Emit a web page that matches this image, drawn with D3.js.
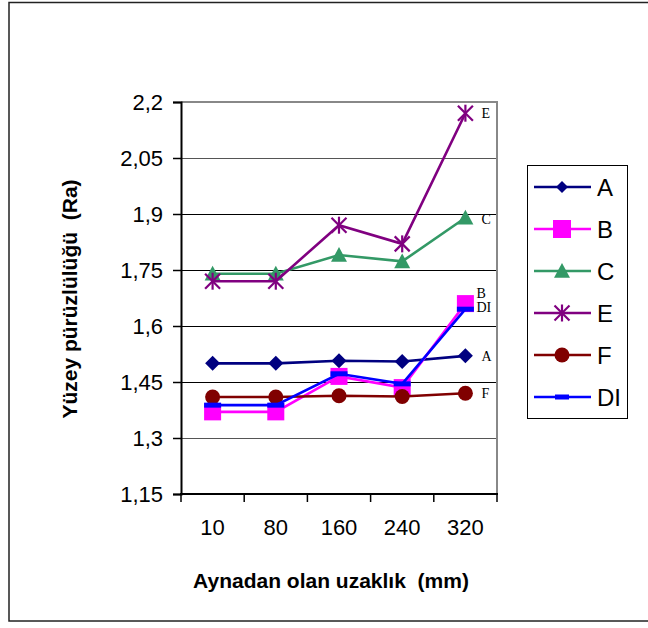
<!DOCTYPE html>
<html><head><meta charset="utf-8">
<script src="https://cdn.jsdelivr.net/npm/d3@7"></script>
<style>
html,body{margin:0;padding:0;background:#fff;}
svg{display:block;}
text{font-family:"Liberation Sans",Arial,sans-serif;white-space:pre;}
text.serif{font-family:"Liberation Serif","Times New Roman",serif;}
</style></head>
<body>
<svg id="chart" width="648" height="628"></svg>
<script>
const categories = ["10","80","160","240","320"];
const seriesNames = ["A","B","C","E","F","DI"];
const valuesA  = [1.50, 1.50, 1.507, 1.505, 1.52];
const valuesB  = [1.37, 1.37, 1.465, 1.435, 1.66];
const valuesC  = [1.74, 1.74, 1.79, 1.773, 1.89];
const valuesE  = [1.72, 1.72, 1.87, 1.82, 2.17];
const valuesF  = [1.41, 1.41, 1.413, 1.411, 1.42];
const valuesDI = [1.388, 1.388, 1.472, 1.445, 1.645];
const yTickValues = [1.15, 1.3, 1.45, 1.6, 1.75, 1.9, 2.05, 2.2];
const yTickLabels = ["1,15","1,3","1,45","1,6","1,75","1,9","2,05","2,2"];
const xTitle = "Aynadan olan uzaklık  (mm)";
const yTitle = "Yüzey pürüzlülüğü  (Ra)";

const seriesValues = {A:valuesA, B:valuesB, C:valuesC, E:valuesE, F:valuesF, DI:valuesDI};
const colors = {A:"#000080", B:"#FF00FF", C:"#339966", E:"#800080", F:"#800000", DI:"#0000FF"};

const svg = d3.select("#chart");
const L = 181, R = 497, T = 102, B = 494;
const x = d3.scaleBand().domain(categories).range([L, R]).padding(0);
const y = d3.scaleLinear().domain([1.15, 2.2]).range([B, T]);
const cx = c => x(c) + x.bandwidth()/2;

// outer border
svg.append("rect").attr("x",9).attr("y",2.5).attr("width",700).attr("height",618.5)
  .attr("fill","none").attr("stroke","#222").attr("stroke-width",1.5);

// gridlines
svg.append("g").selectAll("line").data(yTickValues.slice(1, -1)).join("line")
  .attr("x1", L).attr("x2", R)
  .attr("y1", d => Math.round(y(d)) + 0.5).attr("y2", d => Math.round(y(d)) + 0.5)
  .attr("stroke", (d,i) => (i===0 || i===5) ? "#555" : "#000").attr("stroke-width", 1);

// plot area top/right border
svg.append("path").attr("d", `M${L},${T}H${R}V${B}`).attr("fill","none")
  .attr("stroke","#888").attr("stroke-width",2);

// y axis
const yAxis = d3.axisLeft(y).tickValues(yTickValues).tickSize(8).tickPadding(10)
  .tickFormat((d,i) => yTickLabels[i]);
const gy = svg.append("g").attr("transform", `translate(${L},0)`).call(yAxis);
gy.select(".domain").attr("stroke","#000").attr("stroke-width",2);
gy.selectAll(".tick line").attr("stroke","#000").attr("stroke-width",1.5);
gy.selectAll(".tick text").attr("font-size",22).attr("fill","#000").attr("dy","0.36em");

// x axis (ticks between categories)
const gx = svg.append("g");
gx.append("line").attr("x1",L-1).attr("x2",R+1).attr("y1",B).attr("y2",B)
  .attr("stroke","#000").attr("stroke-width",2);
const edges = categories.map(c => x(c)).concat([x(categories[categories.length-1]) + x.bandwidth()]);
gx.selectAll("line.tk").data(edges).join("line").attr("class","tk")
  .attr("x1", d => d).attr("x2", d => d).attr("y1", B).attr("y2", B + 8)
  .attr("stroke","#000").attr("stroke-width",1.5);
gx.selectAll("text").data(categories).join("text")
  .attr("x", d => cx(d)).attr("y", 535).attr("text-anchor","middle")
  .attr("font-size",22).attr("fill","#000").text(d => d);

// axis titles
svg.append("text").attr("x", 331).attr("y", 588).attr("text-anchor","middle")
  .attr("font-size",21).attr("font-weight","bold").text(xTitle);
svg.append("text").attr("transform","translate(77,299) rotate(-90)").attr("text-anchor","middle")
  .attr("font-size",21).attr("font-weight","bold").text(yTitle);

// markers
function drawMarker(g, name, px, py, legend) {
  const col = colors[name];
  if (name === "A") {
    const s = legend ? 6 : 7.5;
    g.append("path").attr("d", `M${px},${py-s}L${px+s},${py}L${px},${py+s}L${px-s},${py}Z`).attr("fill", col);
  } else if (name === "B") {
    const s = legend ? 9 : 8.5;
    g.append("rect").attr("x", px-s).attr("y", py-s).attr("width", 2*s).attr("height", 2*s).attr("fill", col);
  } else if (name === "C") {
    const s = 8;
    g.append("path").attr("d", `M${px},${py-s}L${px+s},${py+s*0.85}L${px-s},${py+s*0.85}Z`).attr("fill", col);
  } else if (name === "E") {
    const s = 7.5;
    const ga = g.append("g").attr("stroke", col).attr("stroke-width", 2.2);
    ga.append("line").attr("x1",px-s).attr("x2",px+s).attr("y1",py-s).attr("y2",py+s);
    ga.append("line").attr("x1",px-s).attr("x2",px+s).attr("y1",py+s).attr("y2",py-s);
    ga.append("line").attr("x1",px).attr("x2",px).attr("y1",py-s-1).attr("y2",py+s+1);
  } else if (name === "F") {
    g.append("circle").attr("cx", px).attr("cy", py).attr("r", 7.5).attr("fill", col);
  } else if (name === "DI") {
    const w = legend ? 7 : 8.5, h = 2.5;
    g.append("rect").attr("x", px-w).attr("y", py-h).attr("width", 2*w).attr("height", 2*h).attr("fill", col);
  }
}

const line = d3.line().x((d,i) => cx(categories[i])).y(d => y(d));
const endOffsets = {A:5, B:-6, C:6, E:5, F:5, DI:3};
seriesNames.forEach(name => {
  const vals = seriesValues[name];
  const g = svg.append("g");
  g.append("path").datum(vals).attr("d", line).attr("fill","none")
    .attr("stroke", colors[name]).attr("stroke-width", 2.6);
  vals.forEach((v,i) => drawMarker(g, name, cx(categories[i]), y(v), false));
});
// end labels
seriesNames.forEach(name => {
  const vals = seriesValues[name];
  const last = vals[vals.length-1];
  svg.append("text").attr("class","serif")
    .attr("x", cx(categories[categories.length-1]) + (name==="B"||name==="DI" ? 11 : 16))
    .attr("y", y(last) + endOffsets[name])
    .attr("font-size",14).attr("fill","#000").text(name);
});

// legend
const lg = svg.append("g");
lg.append("rect").attr("x",527.5).attr("y",165.5).attr("width",100).attr("height",253)
  .attr("fill","#fff").attr("stroke","#000").attr("stroke-width",1);
seriesNames.forEach((name,i) => {
  const ly = 187 + i*42;
  lg.append("line").attr("x1",534).attr("x2",591).attr("y1",ly).attr("y2",ly)
    .attr("stroke",colors[name]).attr("stroke-width",2.6);
  drawMarker(lg, name, 562, ly, true);
  lg.append("text").attr("x",597).attr("y",ly+9).attr("font-size",24).attr("fill","#000").text(name);
});
</script>
</body></html>
